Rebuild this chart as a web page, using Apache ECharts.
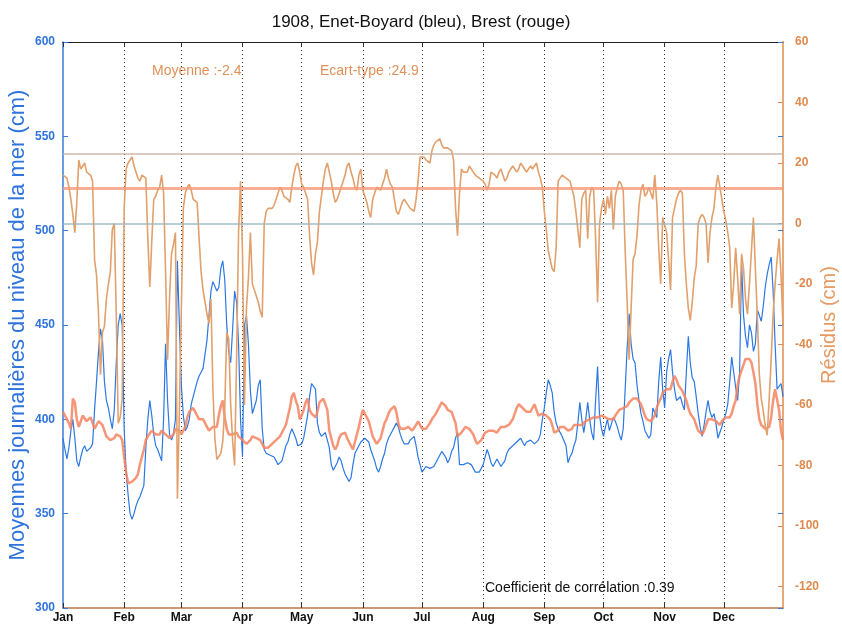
<!DOCTYPE html>
<html>
<head>
<meta charset="utf-8">
<script src="https://cdn.jsdelivr.net/npm/echarts@6/dist/echarts.min.js"></script>
<style>html,body{margin:0;padding:0;background:#fff}#c{width:842px;height:628px}</style>
</head>
<body>
<div id="c"></div>
<script>
const titleText = '1908, Enet-Boyard (bleu), Brest (rouge)';
const leftAxisName = 'Moyennes journalières du niveau de la mer (cm)';
const rightAxisName = 'Résidus (cm)';
const meanResid = '-2.4';
const stdResid = '24.9';
const corrCoef = '0.39';
const monthLabels = ['Jan','Feb','Mar','Apr','May','Jun','Jul','Aug','Sep','Oct','Nov','Dec'];
const monthStarts = [0,31,60,91,121,152,182,213,244,274,305,335];
const days = Array.from({length: 366}, (_, i) => i + 1);
const residusRefLines = [23.1, 11.6, 0];

const enetBoyard = [
390,384,379,385,394,400,390,378,375,380,
384,386,383,382,385,387,405,420,436,448,
442,420,410,406,400,395,405,430,450,456,
450,395,372,360,350,347,350,354,357,359,
360,365,385,400,410,402,392,386,384,384,
378,400,440,410,392,389,392,400,484,450,
418,402,394,396,400,408,412,416,420,423,
425,427,428,442,455,468,473,473,468,470,
480,484,474,450,436,430,448,468,462,440,
400,380,450,455,440,415,403,403,410,418,
421,395,384,382,382,381,381,380,378,376,
375,378,382,386,388,392,395,395,390,386,
386,387,390,396,402,412,419,419,416,398,
393,391,391,393,394,385,376,373,375,377,
380,378,374,371,369,367,369,376,382,384,
386,388,389,390,391,388,384,381,378,374,
372,375,379,382,387,390,391,394,396,398,
396,392,389,387,386,387,389,390,391,386,
380,376,372,373,375,375,374,374,375,377,
379,380,383,383,380,377,379,383,385,390,
393,376,376,376,377,377,377,376,374,372,
371,372,373,376,380,384,381,377,375,377,
379,377,375,374,378,382,384,385,386,387,
388,389,390,388,386,388,389,389,388,387,
388,389,392,400,406,414,421,418,414,404,
398,395,393,391,390,386,377,380,382,386,
389,398,409,400,393,400,409,400,393,389,
410,428,402,395,391,396,400,394,393,401,
399,396,392,389,395,416,438,456,440,432,
430,418,410,403,399,394,392,390,392,406,
405,401,420,433,416,406,425,432,437,425,
416,410,410,412,408,405,425,444,430,422,
420,412,403,396,391,397,404,410,404,401,
403,398,390,393,396,400,403,408,420,433,
425,417,410,425,483,455,444,438,450,446,
436,440,458,455,452,460,470,477,482,486,
468,440,416,416,419,412
];

const brest = [
404,402,400,398,395,411,409,400,396,399,
402,401,399,399,401,400,395,397,399,400,
397,394,391,390,389,389,390,392,393,391,
389,380,372,366,366,367,368,369,371,376,
380,384,389,391,392,394,394,392,391,392,
394,394,392,391,390,389,392,395,396,394,
392,391,396,401,404,405,406,407,402,400,
400,400,398,396,394,395,396,396,396,402,
407,410,401,395,392,391,392,393,393,391,
390,389,388,387,386,389,391,391,390,389,
389,387,385,384,385,386,387,387,389,390,
391,393,395,397,398,406,412,414,410,407,
400,402,405,409,411,405,403,402,401,404,
409,410,411,412,405,394,390,386,384,386,
390,392,393,393,390,388,386,384,388,392,
396,401,405,404,401,399,395,391,389,387,
387,390,394,398,400,403,405,406,407,404,
398,395,394,395,396,396,395,394,395,397,
399,397,395,394,395,396,398,400,401,403,
405,407,409,409,407,405,404,404,404,398,
391,392,393,394,396,396,395,394,392,389,
387,388,389,391,393,394,394,394,394,393,
393,394,396,396,396,396,397,398,400,403,
406,408,409,406,405,404,403,404,406,408,
405,402,401,403,404,402,401,400,397,393,
393,394,396,395,396,395,394,394,395,397,
398,397,396,397,398,399,400,400,401,401,
401,401,402,402,402,401,401,400,400,400,
402,403,405,406,406,407,407,409,410,411,
411,411,410,408,405,402,400,399,399,399,
402,406,409,411,414,415,416,416,416,420,
423,421,418,417,415,414,410,406,403,402,
400,397,394,393,392,394,397,400,401,400,
400,399,398,397,399,400,401,401,401,403,
407,410,418,423,426,429,432,433,432,430,
425,419,408,400,397,396,395,394,396,401,
410,416,415,405,394,389
];

const residus = [
16,15.5,15,12,8,3,-3,7,21,18,
19,20,17,17,16,14,-12,-17,-30,-50,
-36,-34,-25,-20,-16,-2,0,-30,-66,-64,
-58,5,18,20,21,22,19,17,15,14,
16,16,15,-5,-21,-6,8,9,11,12,
16,10,-16,-45,-25,-10,-7,-3,-91,-62,
-28,5,10,12,13,11,8,8,7,-5,
-16,-22,-26,-30,-33,-25,-55,-71,-78,-77,
-76,-72,-61,-36,-38,-60,-72,-80,-45,-3,
14,-10,-60,-28,-18,-3,-20,-22,-24,-26,
-29,-31,0,4,5,5,5,6,8,10,
12,11,9,9,8,7,12,16,19,20,
17,13,12,10,8,-4,-13,-17,-10,-6,
4,9,14,18,20,17,14,10,7,8,
10,12,14,16,19,20,17,15,12,11,
16,18,11,9,7,4,2,8,10,12,
12,11,11,15,18,15,13,12,8,4,
3,5,7,8,7,6,5,5,4,8,
14,22,22,22,21,21,20,24,26,27,
27,28,26,25,25,25,25,24,21,5,
-4,10,18,17,17,17,19,19,17,16,
16,15,15,14,13,11,13,17,17,16,
15,17,18,16,14,15,17,18,19,18,
17,18,20,20,18,17,18,19,18,19,
20,17,15,12,4,-2,-9,-12,-15,-16,
-8,14,15,16,16,15,15,14,14,9,
4,-2,-8,8,10,11,-5,9,12,11,
-5,-26,0,5,8,3,9,5,11,-2,
9,12,14,13,11,-9,-26,-45,-28,-12,
-10,-4,6,11,13,9,10,12,12,8,
16,7,-8,-20,2,2,-3,-12,-22,2,
5,8,10,11,10,-10,-20,-28,-32,-26,
-18,-14,0,2,3,2,0,-13,-3,2,
5,12,16,12,8,4,1,-3,-8,-28,
-20,-8,-18,-30,-10,-15,-25,-30,-20,-9,
2,-15,-31,-50,-58,-62,-67,-70,-58,-45,
-30,-20,-12,-5,-17,-34
];

const FONT = '"Liberation Sans", Arial, sans-serif';
const isMonthStart = (i) => monthStarts.indexOf(i) >= 0;
const refStyles = [
  {color: '#c9b0a0', width: 1.5, type: 'solid', opacity: 0.9},
  {color: '#f59a7a', width: 3, type: 'solid', opacity: 0.8},
  {color: '#9bb5bd', width: 1.5, type: 'solid', opacity: 0.9}
];

const chart = echarts.init(document.getElementById('c'), null, {renderer: 'canvas'});
chart.setOption({
  animation: false,
  backgroundColor: '#ffffff',
  textStyle: {fontFamily: FONT},
  title: {
    text: titleText, left: 'center', top: 9,
    textStyle: {fontFamily: FONT, fontSize: 17, fontWeight: 'normal', color: '#111'}
  },
  grid: {left: 63, right: 59, top: 42, bottom: 20, containLabel: false, outerBoundsMode: 'none'},
  xAxis: [{
    type: 'category', data: days, boundaryGap: false, position: 'bottom',
    axisLine: {show: true, onZero: false, lineStyle: {color: '#b9794a', width: 1.5}},
    axisTick: {show: true, inside: true, length: 5, interval: (i) => isMonthStart(i), lineStyle: {color: '#333'}},
    axisLabel: {
      interval: (i) => isMonthStart(i),
      formatter: (v, i) => monthLabels[monthStarts.indexOf(i)],
      color: '#111', fontSize: 12, fontWeight: 'bold', margin: 4, fontFamily: FONT
    },
    splitLine: {show: true, interval: (i) => isMonthStart(i) && i > 0, lineStyle: {type: [1, 3], color: '#333', width: 1}}
  }, {
    type: 'category', data: days, boundaryGap: false, position: 'top',
    axisLine: {show: true, onZero: false, lineStyle: {color: '#222', width: 1}},
    axisTick: {show: true, inside: true, length: 5, interval: (i) => isMonthStart(i), lineStyle: {color: '#333'}},
    axisLabel: {show: false},
    splitLine: {show: false}
  }],
  yAxis: [{
    type: 'value', min: 300, max: 600, interval: 50, position: 'left',
    name: leftAxisName, nameLocation: 'middle', nameGap: 34, nameMoveOverlap: false,
    nameTextStyle: {color: '#2f74dc', fontSize: 22, fontFamily: FONT},
    axisLine: {show: true, onZero: false, lineStyle: {color: '#3a7bd5', width: 1.5}},
    axisTick: {show: true, inside: true, length: 5, lineStyle: {color: '#3a7bd5'}},
    axisLabel: {color: '#2f74dc', fontSize: 12, fontWeight: 'bold', margin: 8, fontFamily: FONT},
    splitLine: {show: false}
  }, {
    type: 'value', min: -127.1, max: 60, minInterval: 20, maxInterval: 20, position: 'right',
    name: rightAxisName, nameLocation: 'middle', nameGap: 36, nameMoveOverlap: false,
    nameTextStyle: {color: '#e59a62', fontSize: 20, fontFamily: FONT},
    axisLine: {show: true, onZero: false, lineStyle: {color: '#e8a878', width: 2}},
    axisTick: {show: true, inside: true, length: 5, lineStyle: {color: '#d98c55'}},
    axisLabel: {showMinLabel: false, color: '#df8a4e', fontSize: 12, fontWeight: 'bold', margin: 12, fontFamily: FONT},
    splitLine: {show: false}
  }, {
    type: 'value', min: 300, max: 600, interval: 50, position: 'right',
    axisLine: {show: false, onZero: false},
    axisTick: {show: true, inside: true, length: 5, lineStyle: {color: '#3a7bd5'}},
    axisLabel: {show: false},
    splitLine: {show: false}
  }],
  series: [{
    name: 'Enet-Boyard', type: 'line', data: enetBoyard, xAxisIndex: 0, yAxisIndex: 0,
    showSymbol: false, symbol: 'none', z: 2,
    lineStyle: {color: '#2b78e4', width: 1.2}
  }, {
    name: 'Brest', type: 'line', data: brest, xAxisIndex: 0, yAxisIndex: 0,
    showSymbol: false, symbol: 'none', z: 3,
    lineStyle: {color: '#f5835f', width: 2.5, opacity: 0.85}
  }, {
    name: 'Résidus', type: 'line', data: residus, xAxisIndex: 0, yAxisIndex: 1,
    showSymbol: false, symbol: 'none', z: 4,
    lineStyle: {color: '#e2a06c', width: 1.6},
    markLine: {
      silent: true, symbol: 'none', label: {show: false}, animation: false,
      data: residusRefLines.map((v, i) => ({yAxis: v, lineStyle: refStyles[i]}))
    }
  }],
  graphic: [{
    type: 'text', left: 152, top: 64,
    style: {text: 'Moyenne :' + meanResid, fill: '#e0915a', font: '14px ' + FONT}
  }, {
    type: 'text', left: 320, top: 64,
    style: {text: 'Ecart-type :' + stdResid, fill: '#e0915a', font: '14px ' + FONT}
  }, {
    type: 'text', left: 485, top: 581,
    style: {text: 'Coefficient de corrélation :' + corrCoef, fill: '#111', font: '14px ' + FONT}
  }]
});
</script>
</body>
</html>
